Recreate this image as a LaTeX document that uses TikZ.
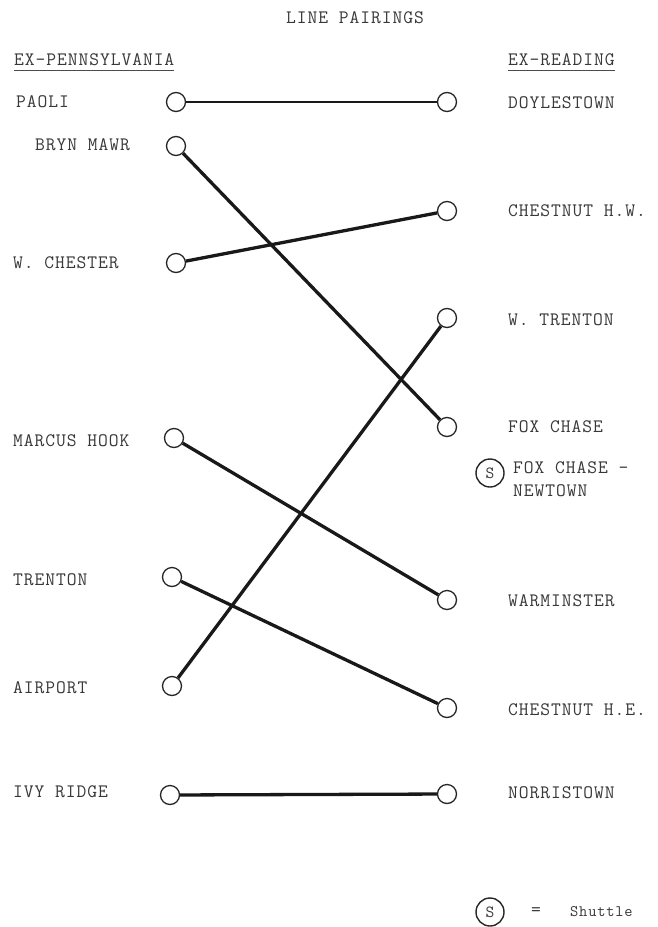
\documentclass[tikz,border=0pt]{standalone}
\usepackage{fontspec}
\newfontfamily\tw[LetterSpace=5]{Latin Modern Mono}
\begin{document}
\begin{tikzpicture}[x=1pt,y={(0pt,-1pt)},
  txt/.style={font=\tw\fontsize{19}{22}\selectfont, text=black!78, inner sep=0pt},
  lbl/.style={txt, anchor=west},
  stop/.style={circle, draw=black!85, line width=1.3pt, minimum size=19pt, inner sep=0pt},
  shut/.style={circle, draw=black!85, line width=1.4pt, minimum size=28pt, inner sep=0pt, font=\tw\fontsize{17}{19}\selectfont, text=black!78},
  link/.style={line width=3.3pt, draw=black!90},
  uline/.style={line width=1.2pt, draw=black!70}]
\useasboundingbox (0,0) rectangle (658,927);
\fill[white] (0,0) rectangle (658,927);

\node[txt] (title) at (355,18) {LINE PAIRINGS};
\node[lbl] (hl) at (14,60) {EX-PENNSYLVANIA};
\node[lbl] (hr) at (508,60) {EX-READING};
\draw[uline] ([yshift=-4pt]hl.south west) -- ([yshift=-4pt]hl.south east);
\draw[uline] ([yshift=-4pt]hr.south west) -- ([yshift=-4pt]hr.south east);

% left labels
\node[lbl] (lpaoli) at (16,102) {PAOLI};
\node[lbl] (lbryn) at (35,145) {BRYN MAWR};
\node[lbl] (lwch) at (13,263) {W. CHESTER};
\node[lbl] (lmh) at (13,441) {MARCUS HOOK};
\node[lbl] (ltr) at (13,580) {TRENTON};
\node[lbl] (lair) at (13,688) {AIRPORT};
\node[lbl] (livy) at (13,792) {IVY RIDGE};

% right labels
\node[lbl] (rdoy) at (508,103) {DOYLESTOWN};
\node[lbl] (rchw) at (508,211) {CHESTNUT H.W.};
\node[lbl] (rwtr) at (508,320) {W. TRENTON};
\node[lbl] (rfox) at (508,427) {FOX CHASE};
\node[lbl] (rfn1) at (513,468) {FOX CHASE -};
\node[lbl] (rfn2) at (513,491) {NEWTOWN};
\node[lbl] (rwar) at (508,601) {WARMINSTER};
\node[lbl] (rche) at (508,710) {CHESTNUT H.E.};
\node[lbl] (rnor) at (508,793) {NORRISTOWN};

% left stops
\node[stop] (paoli) at (176,102) {};
\node[stop] (bryn) at (176,146) {};
\node[stop] (wch) at (176,263) {};
\node[stop] (mh) at (174,438) {};
\node[stop] (tr) at (172,577) {};
\node[stop] (air) at (172,686) {};
\node[stop] (ivy) at (170,795) {};

% right stops
\node[stop] (doy) at (447,102) {};
\node[stop] (chw) at (447,211) {};
\node[stop] (wtr) at (447,318) {};
\node[stop] (fox) at (447,427) {};
\node[stop] (war) at (447,600) {};
\node[stop] (che) at (447,708) {};
\node[stop] (nor) at (447,794) {};

% links
\draw[link, line width=2.4pt] (paoli) -- (doy);
\draw[link] (bryn) -- (fox);
\draw[link] (wch) -- (chw);
\draw[link] (air) -- (wtr);
\draw[link] (mh) -- (war);
\draw[link] (tr) -- (che);
\draw[link] (ivy) -- (nor);

% shuttle
\node[shut] (sfn) at (490,473) {S};
\node[shut] (sleg) at (490,912) {S};
\node[txt, anchor=west] (eq) at (531,912) {=};
\node[txt, anchor=west, font=\tw\fontsize{16}{18}\selectfont] (shtxt) at (570,912) {Shuttle};
\end{tikzpicture}
\end{document}
